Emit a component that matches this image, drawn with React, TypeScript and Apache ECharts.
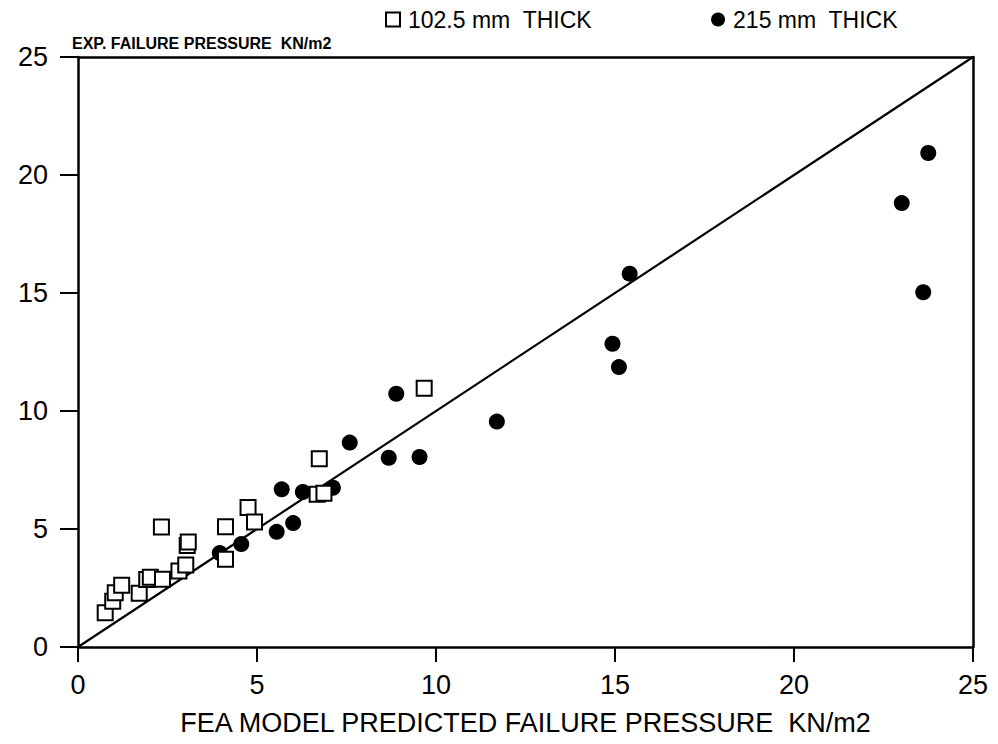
import React, { useEffect, useRef } from "react";
import * as echarts from "echarts";

const xTicks = [0, 5, 10, 15, 20, 25];
const yTicks = [0, 5, 10, 15, 20, 25];
const thinWallName = "102.5 mm  THICK";
const thickWallName = "215 mm  THICK";

// 102.5 mm walls: [FEA predicted, experimental]
const thinWall: [number, number][] = [
  [0.76, 1.45], [0.97, 1.94], [1.04, 2.3], [1.22, 2.62], [1.71, 2.28],
  [1.92, 2.86], [2.02, 2.96], [2.36, 2.87], [2.82, 3.22], [3.01, 3.47],
  [2.33, 5.08], [3.05, 4.3], [3.08, 4.45], [4.12, 5.1], [4.12, 3.72],
  [4.75, 5.91], [4.93, 5.3], [6.74, 7.98], [6.68, 6.47], [6.87, 6.51],
  [9.67, 10.96],
];

// 215 mm walls
const thickWall: [number, number][] = [
  [3.96, 3.98], [4.56, 4.36], [5.55, 4.88], [6.01, 5.25], [5.69, 6.68],
  [6.28, 6.57], [7.12, 6.75], [7.59, 8.66], [8.89, 10.73], [8.68, 8.02],
  [9.54, 8.05], [11.7, 9.55], [14.93, 12.85], [15.11, 11.86], [15.41, 15.82],
  [23.01, 18.81], [23.75, 20.93], [23.61, 15.03],
];

const equalityLine: [number, number][] = [[0, 0], [25, 25]];

const FONT = "'Liberation Sans', Arial, sans-serif";

export default function App() {
  const ref = useRef<HTMLDivElement>(null);
  useEffect(() => {
    if (!ref.current) return;
    const chart = echarts.init(ref.current, null, { renderer: "svg" });
    const frameAxis = {
      type: "value" as const,
      interval: 5,
      axisLine: { show: true, onZero: false, lineStyle: { color: "#000", width: 2.5 } },
      axisTick: { show: false },
      axisLabel: { show: false },
      splitLine: { show: false },
    };
    chart.setOption({
      animation: false,
      backgroundColor: "#fff",
      textStyle: { fontFamily: FONT },
      grid: {
        left: 78,
        right: 25,
        top: 57,
        bottom: 97,
        show: false,
        containLabel: false,
      },
      legend: {
        left: 380,
        top: 3,
        itemGap: 119,
        itemWidth: 14,
        itemHeight: 14,
        textStyle: { color: "#000", fontSize: 23, fontFamily: FONT, padding: [0, 0, 0, 3] },
        data: [
          { name: thinWallName, icon: "rect" },
          { name: thickWallName, icon: "circle" },
        ],
      },
      xAxis: [
        {
          type: "value",
          position: "bottom",
          min: xTicks[0],
          max: xTicks[xTicks.length - 1],
          interval: 5,
          axisLine: { show: true, onZero: false, lineStyle: { color: "#000", width: 2.5 } },
          axisTick: { show: true, inside: false, length: 15, lineStyle: { color: "#000", width: 2 } },
          splitLine: { show: false },
          axisLabel: { show: true, color: "#000", fontSize: 27, fontFamily: FONT, margin: 24 },
          name: "FEA MODEL PREDICTED FAILURE PRESSURE  KN/m2",
          nameLocation: "middle",
          nameGap: 62,
          nameTextStyle: { color: "#000", fontSize: 27, fontFamily: FONT },
        },
        {
          ...frameAxis,
          position: "top",
          min: xTicks[0],
          max: xTicks[xTicks.length - 1],
        },
      ],
      yAxis: [
        {
          type: "value",
          position: "left",
          min: yTicks[0],
          max: yTicks[yTicks.length - 1],
          interval: 5,
          axisLine: { show: true, onZero: false, lineStyle: { color: "#000", width: 2.5 } },
          axisTick: { show: true, inside: false, length: 18, lineStyle: { color: "#000", width: 2 } },
          splitLine: { show: false },
          axisLabel: { show: true, color: "#000", fontSize: 27, fontFamily: FONT, margin: 30 },
          name: "EXP. FAILURE PRESSURE  KN/m2",
          nameLocation: "end",
          nameGap: 6,
          nameTextStyle: {
            color: "#000",
            fontSize: 16,
            fontWeight: "bold",
            fontFamily: FONT,
            align: "left",
            padding: [0, 0, 0, -6],
          },
        },
        {
          ...frameAxis,
          position: "right",
          min: yTicks[0],
          max: yTicks[yTicks.length - 1],
        },
      ],
      series: [
        {
          type: "line",
          data: equalityLine,
          symbol: "none",
          lineStyle: { color: "#000", width: 2.2 },
          z: 1,
          silent: true,
        },
        {
          name: thickWallName,
          type: "scatter",
          data: thickWall,
          symbol: "circle",
          symbolSize: 16,
          itemStyle: { color: "#000", opacity: 1 },
          z: 2,
        },
        {
          name: thinWallName,
          type: "scatter",
          data: thinWall,
          symbol: "rect",
          symbolSize: 15,
          itemStyle: { color: "#fff", borderColor: "#000", borderWidth: 2, opacity: 1 },
          z: 3,
        },
      ],
    });
    return () => chart.dispose();
  }, []);
  return <div ref={ref} style={{ width: 998, height: 744, margin: -8 }} />;
}
